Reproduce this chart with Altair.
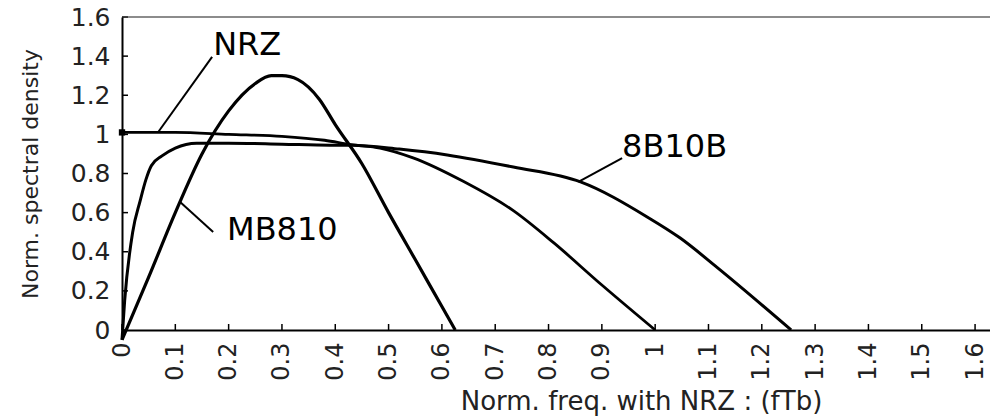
import altair as alt
import pandas as pd

# ---- data ----
nrz_x = [0, 0.1, 0.2, 0.3, 0.38, 0.43, 0.484, 0.546, 0.64, 0.734, 0.81, 0.9, 1.0]
nrz_y = [1.01, 1.01, 1.0, 0.99, 0.97, 0.948, 0.93, 0.88, 0.76, 0.61, 0.445, 0.23, 0]

b8_x = [0, 0.005, 0.02, 0.034, 0.045, 0.055, 0.075, 0.1, 0.14, 0.2, 0.3, 0.39, 0.43,
        0.52, 0.61, 0.734, 0.86, 0.985, 1.047, 1.116, 1.255]
b8_y = [-0.05, 0.15, 0.5, 0.66, 0.77, 0.84, 0.89, 0.93, 0.955, 0.955, 0.95, 0.945,
        0.945, 0.925, 0.895, 0.833, 0.757, 0.578, 0.47, 0.32, 0]

mb_x = [0, 0.05, 0.1, 0.15, 0.2, 0.25, 0.28, 0.3, 0.33, 0.37, 0.4, 0.45, 0.5, 0.55, 0.6, 0.625]
mb_y = [-0.05, 0.27, 0.6, 0.9, 1.12, 1.26, 1.3, 1.3, 1.28, 1.18, 1.05, 0.85, 0.6, 0.36, 0.12, 0]

x_ticks = [0, 0.1, 0.2, 0.3, 0.4, 0.5, 0.6, 0.7, 0.8, 0.9, 1.0, 1.1, 1.2, 1.3, 1.4, 1.5, 1.6]
y_ticks = [0, 0.2, 0.4, 0.6, 0.8, 1.0, 1.2, 1.4, 1.6]

label_text = ["NRZ", "MB810", "8B10B"]
label_x = [0.171, 0.197, 0.938]
label_y = [1.405, 0.46, 0.885]
lead_x1 = [0.068, 0.109, 0.856]
lead_y1 = [1.012, 0.654, 0.757]
lead_x2 = [0.169, 0.171, 0.938]
lead_y2 = [1.396, 0.501, 0.879]

W, H = 868, 313
FONT = "DejaVu Sans"

curves = pd.concat([
    pd.DataFrame({"x": nrz_x, "y": nrz_y, "s": "NRZ", "o": range(len(nrz_x))}),
    pd.DataFrame({"x": b8_x, "y": b8_y, "s": "8B10B", "o": range(len(b8_x))}),
    pd.DataFrame({"x": mb_x, "y": mb_y, "s": "MB810", "o": range(len(mb_x))}),
])
labels = pd.DataFrame({"text": label_text, "x": label_x, "y": label_y})
leaders = pd.DataFrame({"x": lead_x1, "y": lead_y1, "x2": lead_x2, "y2": lead_y2})
xt = pd.DataFrame({"x": x_ticks})
yt = pd.DataFrame({"y": y_ticks})

xscale = alt.Scale(domain=[0, 1.628], nice=False, zero=False)
yscale = alt.Scale(domain=[0, 1.6], nice=False, zero=False)

xaxis = alt.Axis(
    values=x_ticks, format=".1~f", ticks=False, grid=False,
    domainColor="black", domainWidth=2,
    labelAngle=-90, labelAlign="right", labelBaseline="middle",
    labelPadding=12, labelFont=FONT, labelFontSize=24, labelColor="#222",
    labelOverlap=False, labelFlush=False,
    title="Norm. freq. with NRZ : (fTb)", titleFont=FONT, titleFontSize=26,
    titleFontWeight="normal", titleColor="#222",
    titleX=519, titleY=71, titleAlign="center", titleBaseline="middle",
)
yaxis = alt.Axis(
    values=y_ticks, format=".1~f", ticks=False, grid=False,
    domainColor="black", domainWidth=2,
    labelPadding=12, labelFont=FONT, labelFontSize=25, labelColor="#222",
    labelOverlap=False, labelFlush=False,
    title="Norm. spectral density", titleFont=FONT, titleFontSize=22,
    titleFontWeight="normal", titleColor="#222",
    titleAngle=-90, titleX=-92, titleY=H / 2, titleAlign="center", titleBaseline="middle",
)


def X(field):
    return alt.X(field, type="quantitative", scale=xscale, axis=xaxis)


def Y(field):
    return alt.Y(field, type="quantitative", scale=yscale, axis=yaxis)


lines = alt.Chart(curves).mark_line(color="black", interpolate="monotone").encode(
    x=X("x"), y=Y("y"), detail="s:N", order="o:Q",
    strokeWidth=alt.StrokeWidth("s:N", scale=alt.Scale(domain=["NRZ", "8B10B", "MB810"], range=[2.8, 3.2, 4.2]), legend=None),
)

start = alt.Chart(curves[(curves["s"] == "NRZ") & (curves["o"] == 0)]).mark_square(
    color="black", size=40, opacity=1).encode(x=X("x"), y=Y("y"))

lead = alt.Chart(leaders).mark_rule(color="black", strokeWidth=2).encode(
    x=X("x"), y=Y("y"), x2="x2:Q", y2="y2:Q")

text = alt.Chart(labels).mark_text(
    align="left", baseline="alphabetic", font=FONT, fontSize=32, color="black").encode(
    x=X("x"), y=Y("y"), text="text:N")

xtick = alt.Chart(xt).mark_rule(color="black", strokeWidth=1.5).encode(
    x=X("x"), y=alt.value(H), y2=alt.value(H - 6))
ytick = alt.Chart(yt).mark_rule(color="black", strokeWidth=1.5).encode(
    y=Y("y"), x=alt.value(0), x2=alt.value(6))

top = alt.Chart(xt).mark_rule(color="#8c8c8c", strokeWidth=1.5).encode(
    y=alt.value(0), x=alt.value(6), x2=alt.value(W))

chart = alt.layer(top, xtick, ytick, lines, start, lead, text).properties(
    width=W, height=H,
    autosize=alt.AutoSizeParams(type="none"),
    padding={"left": 122, "top": 17, "right": 0, "bottom": 88},
).configure_view(stroke=None).configure(background="white")

chart.save("out.html", embed_options={"renderer": "svg", "actions": False})
